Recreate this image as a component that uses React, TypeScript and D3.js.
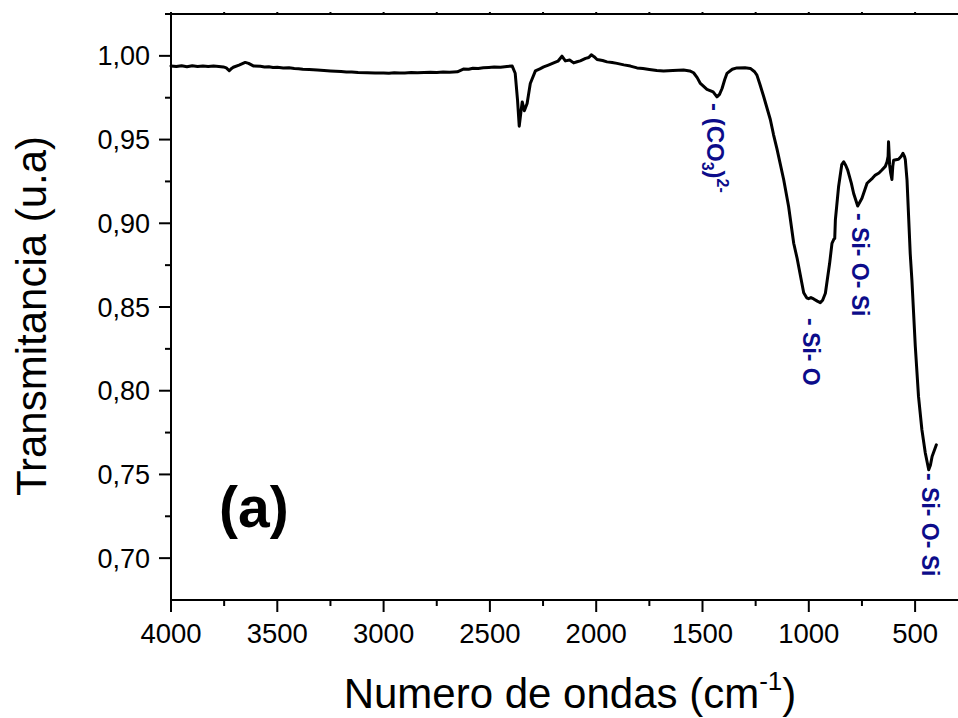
import React from "react";
import * as d3 from "d3";

const wavenumbers = [
  4000, 3975, 3950, 3925, 3900, 3875, 3850, 3825, 3800, 3775, 3754, 3740, 3726, 3715, 3707, 3680, 3651, 3635, 3613, 3580,
  3560, 3540, 3520, 3500, 3472, 3445, 3420, 3400, 3380, 3350, 3312, 3280, 3250, 3225, 3200, 3175, 3150, 3120, 3077, 3040,
  3000, 2975, 2950, 2925, 2900, 2870, 2841, 2810, 2780, 2750, 2720, 2690, 2653, 2625, 2600, 2580, 2555, 2531, 2505, 2480,
  2450, 2420, 2395, 2381, 2370, 2362, 2354, 2348, 2338, 2325, 2310, 2286, 2265, 2247, 2225, 2200, 2180, 2161, 2145, 2125,
  2106, 2090, 2075, 2050, 2035, 2023, 2010, 1996, 1970, 1949, 1925, 1902, 1870, 1839, 1808, 1780, 1750, 1715, 1683, 1640,
  1589, 1560, 1542, 1525, 1510, 1479, 1450, 1432, 1420, 1408, 1395, 1385, 1360, 1338, 1300, 1275, 1255, 1244, 1230, 1213,
  1197, 1181, 1166, 1150, 1118, 1095, 1071, 1055, 1024, 1010, 1001, 990, 977, 960, 946, 935, 922, 902, 891, 882,
  878, 875, 860, 845, 836, 826, 817, 800, 789, 770, 750, 726, 700, 687, 670, 656, 640, 632, 627, 625,
  622, 620, 615, 609, 605, 601, 590, 578, 565, 557, 550, 546, 538, 523, 515, 499, 484, 468, 452, 436,
  428, 420, 400,
];

const transmittance = [
  0.9940, 0.9936, 0.9941, 0.9935, 0.9941, 0.9937, 0.9940, 0.9936, 0.9939, 0.9937, 0.9934, 0.9928, 0.9911, 0.9925, 0.9932, 0.9945, 0.9961, 0.9955, 0.9940, 0.9938,
  0.9934, 0.9935, 0.9931, 0.9932, 0.9928, 0.9929, 0.9925, 0.9923, 0.9920, 0.9918, 0.9915, 0.9913, 0.9910, 0.9908, 0.9906, 0.9904, 0.9903, 0.9900, 0.9899, 0.9897,
  0.9898, 0.9896, 0.9899, 0.9897, 0.9898, 0.9900, 0.9899, 0.9901, 0.9902, 0.9900, 0.9903, 0.9902, 0.9905, 0.9921, 0.9920, 0.9926, 0.9925, 0.9929, 0.9931, 0.9933,
  0.9932, 0.9937, 0.9939, 0.9896, 0.9736, 0.9580, 0.9666, 0.9725, 0.9672, 0.9716, 0.9835, 0.9910, 0.9922, 0.9934, 0.9945, 0.9958, 0.9968, 0.9998, 0.9970, 0.9975,
  0.9958, 0.9965, 0.9970, 0.9985, 0.9990, 1.0006, 0.9995, 0.9978, 0.9972, 0.9964, 0.9960, 0.9955, 0.9946, 0.9939, 0.9928, 0.9924, 0.9918, 0.9912, 0.9909, 0.9913,
  0.9915, 0.9910, 0.9899, 0.9870, 0.9835, 0.9800, 0.9785, 0.9755, 0.9770, 0.9805, 0.9860, 0.9895, 0.9920, 0.9928, 0.9929, 0.9925, 0.9905, 0.9885, 0.9830, 0.9760,
  0.9690, 0.9620, 0.9530, 0.9446, 0.9260, 0.9100, 0.8881, 0.8791, 0.8585, 0.8555, 0.8550, 0.8556, 0.8548, 0.8535, 0.8526, 0.8540, 0.8582, 0.8761, 0.8880, 0.8905,
  0.8910, 0.9020, 0.9218, 0.9350, 0.9367, 0.9345, 0.9318, 0.9240, 0.9178, 0.9103, 0.9149, 0.9239, 0.9270, 0.9288, 0.9300, 0.9318, 0.9340, 0.9367, 0.9400, 0.9487,
  0.9410, 0.9350, 0.9300, 0.9262, 0.9340, 0.9377, 0.9380, 0.9382, 0.9400, 0.9418, 0.9400, 0.9380, 0.9258, 0.8820, 0.8660, 0.8264, 0.7966, 0.7767, 0.7628, 0.7528,
  0.7555, 0.7607, 0.7677,
];

const xTicks = [4000, 3500, 3000, 2500, 2000, 1500, 1000, 500];
const xMinorTicks = [3750, 3250, 2750, 2250, 1750, 1250, 750, 250];
const yTicks = [0.7, 0.75, 0.8, 0.85, 0.9, 0.95, 1.0];
const yMinorTicks = [0.725, 0.775, 0.825, 0.875, 0.925, 0.975, 1.025];

const annotations = [
  { main: "- (CO", sub: "3", close: ")", sup: "2-" },
  { main: "- Si- O" },
  { main: "- Si- O- Si" },
  { main: "- Si- O- Si" },
];
const annotationTops = [103, 318, 213, 473];
const annotationBaselines = [707, 803, 852, 922];

const W = 958;
const H = 718;
const left = 171;
const top = 14;
const bottom = 600;
const right = 958;
const FONT = "Liberation Sans, Arial, Helvetica, sans-serif";
const NAVY = "#0c0c8a";

export default function App() {
  const x = d3.scaleLinear().domain([4000, 250]).range([left, left + (3750 / 500) * 106.3]);
  const y = d3.scaleLinear().domain([0.675, 1.025]).range([bottom, top]);
  const pts: [number, number][] = wavenumbers.map((w, i) => [w, transmittance[i]]);
  const line = d3
    .line<[number, number]>()
    .x((d) => x(d[0]))
    .y((d) => y(d[1]));
  const fmtY = (v: number) => v.toFixed(2).replace(".", ",");

  return (
    <svg width={W} height={H} style={{ position: "absolute", left: 0, top: 0, background: "#fff" }} fontFamily={FONT}>
      <rect x={0} y={0} width={W} height={H} fill="#fff" />
      <line x1={left} x2={right} y1={top} y2={top} stroke="#000" strokeWidth={2} />
      <line x1={left} x2={right} y1={bottom} y2={bottom} stroke="#000" strokeWidth={2} />
      <line x1={left} x2={left} y1={top - 1} y2={bottom + 1} stroke="#000" strokeWidth={2} />
      {xTicks.map((t) => (
        <g key={"xt" + t}>
          <line x1={x(t)} x2={x(t)} y1={bottom} y2={bottom + 12} stroke="#000" strokeWidth={2} />
          <line x1={x(t)} x2={x(t)} y1={top} y2={top - 2} stroke="#000" strokeWidth={2} />
          <text x={x(t)} y={643} fontSize={27.5} textAnchor="middle" fill="#000" fontFamily={FONT}>
            {t}
          </text>
        </g>
      ))}
      {xMinorTicks
        .filter((t) => x(t) <= right)
        .map((t) => (
          <g key={"xm" + t}>
            <line x1={x(t)} x2={x(t)} y1={bottom} y2={bottom + 6} stroke="#000" strokeWidth={2} />
            <line x1={x(t)} x2={x(t)} y1={top} y2={top - 2} stroke="#000" strokeWidth={2} />
          </g>
        ))}
      {yTicks.map((t) => (
        <g key={"yt" + t}>
          <line x1={left} x2={left - 12} y1={y(t)} y2={y(t)} stroke="#000" strokeWidth={2} />
          <text x={150} y={y(t) + 9.5} fontSize={27} textAnchor="end" fill="#000" fontFamily={FONT}>
            {fmtY(t)}
          </text>
        </g>
      ))}
      {yMinorTicks.map((t) => (
        <line key={"ym" + t} x1={left} x2={left - 6} y1={y(t)} y2={y(t)} stroke="#000" strokeWidth={2} />
      ))}
      <path d={line(pts) || ""} fill="none" stroke="#000" strokeWidth={3} strokeLinejoin="round" strokeLinecap="round" />
      {annotations.map((a, i) => (
        <text
          key={"an" + i}
          transform={`translate(${annotationBaselines[i]},${annotationTops[i]}) rotate(90)`}
          fontSize={a.sub ? 24 : 23}
          fontWeight="bold"
          fill={NAVY}
          fontFamily={FONT}
        >
          {a.main}
          {a.sub && (
            <tspan fontSize={16} dy={5}>
              {a.sub}
            </tspan>
          )}
          {a.close && (
            <tspan fontSize={24} dy={-5}>
              {a.close}
            </tspan>
          )}
          {a.sup && (
            <tspan fontSize={16} dy={-10}>
              {a.sup}
            </tspan>
          )}
        </text>
      ))}
      <text x={219} y={527} fontSize={57} fontWeight="bold" fill="#000" fontFamily={FONT}>
        (a)
      </text>
      <text x={570} y={708} fontSize={42} textAnchor="middle" fill="#000" fontFamily={FONT}>
        Numero de ondas (cm
        <tspan fontSize={26} dy={-18}>
          -1
        </tspan>
        <tspan fontSize={42} dy={18}>
          )
        </tspan>
      </text>
      <text transform={`translate(46,316) rotate(-90)`} fontSize={42} textAnchor="middle" fill="#000" fontFamily={FONT}>
        Transmitancia (u.a)
      </text>
    </svg>
  );
}
